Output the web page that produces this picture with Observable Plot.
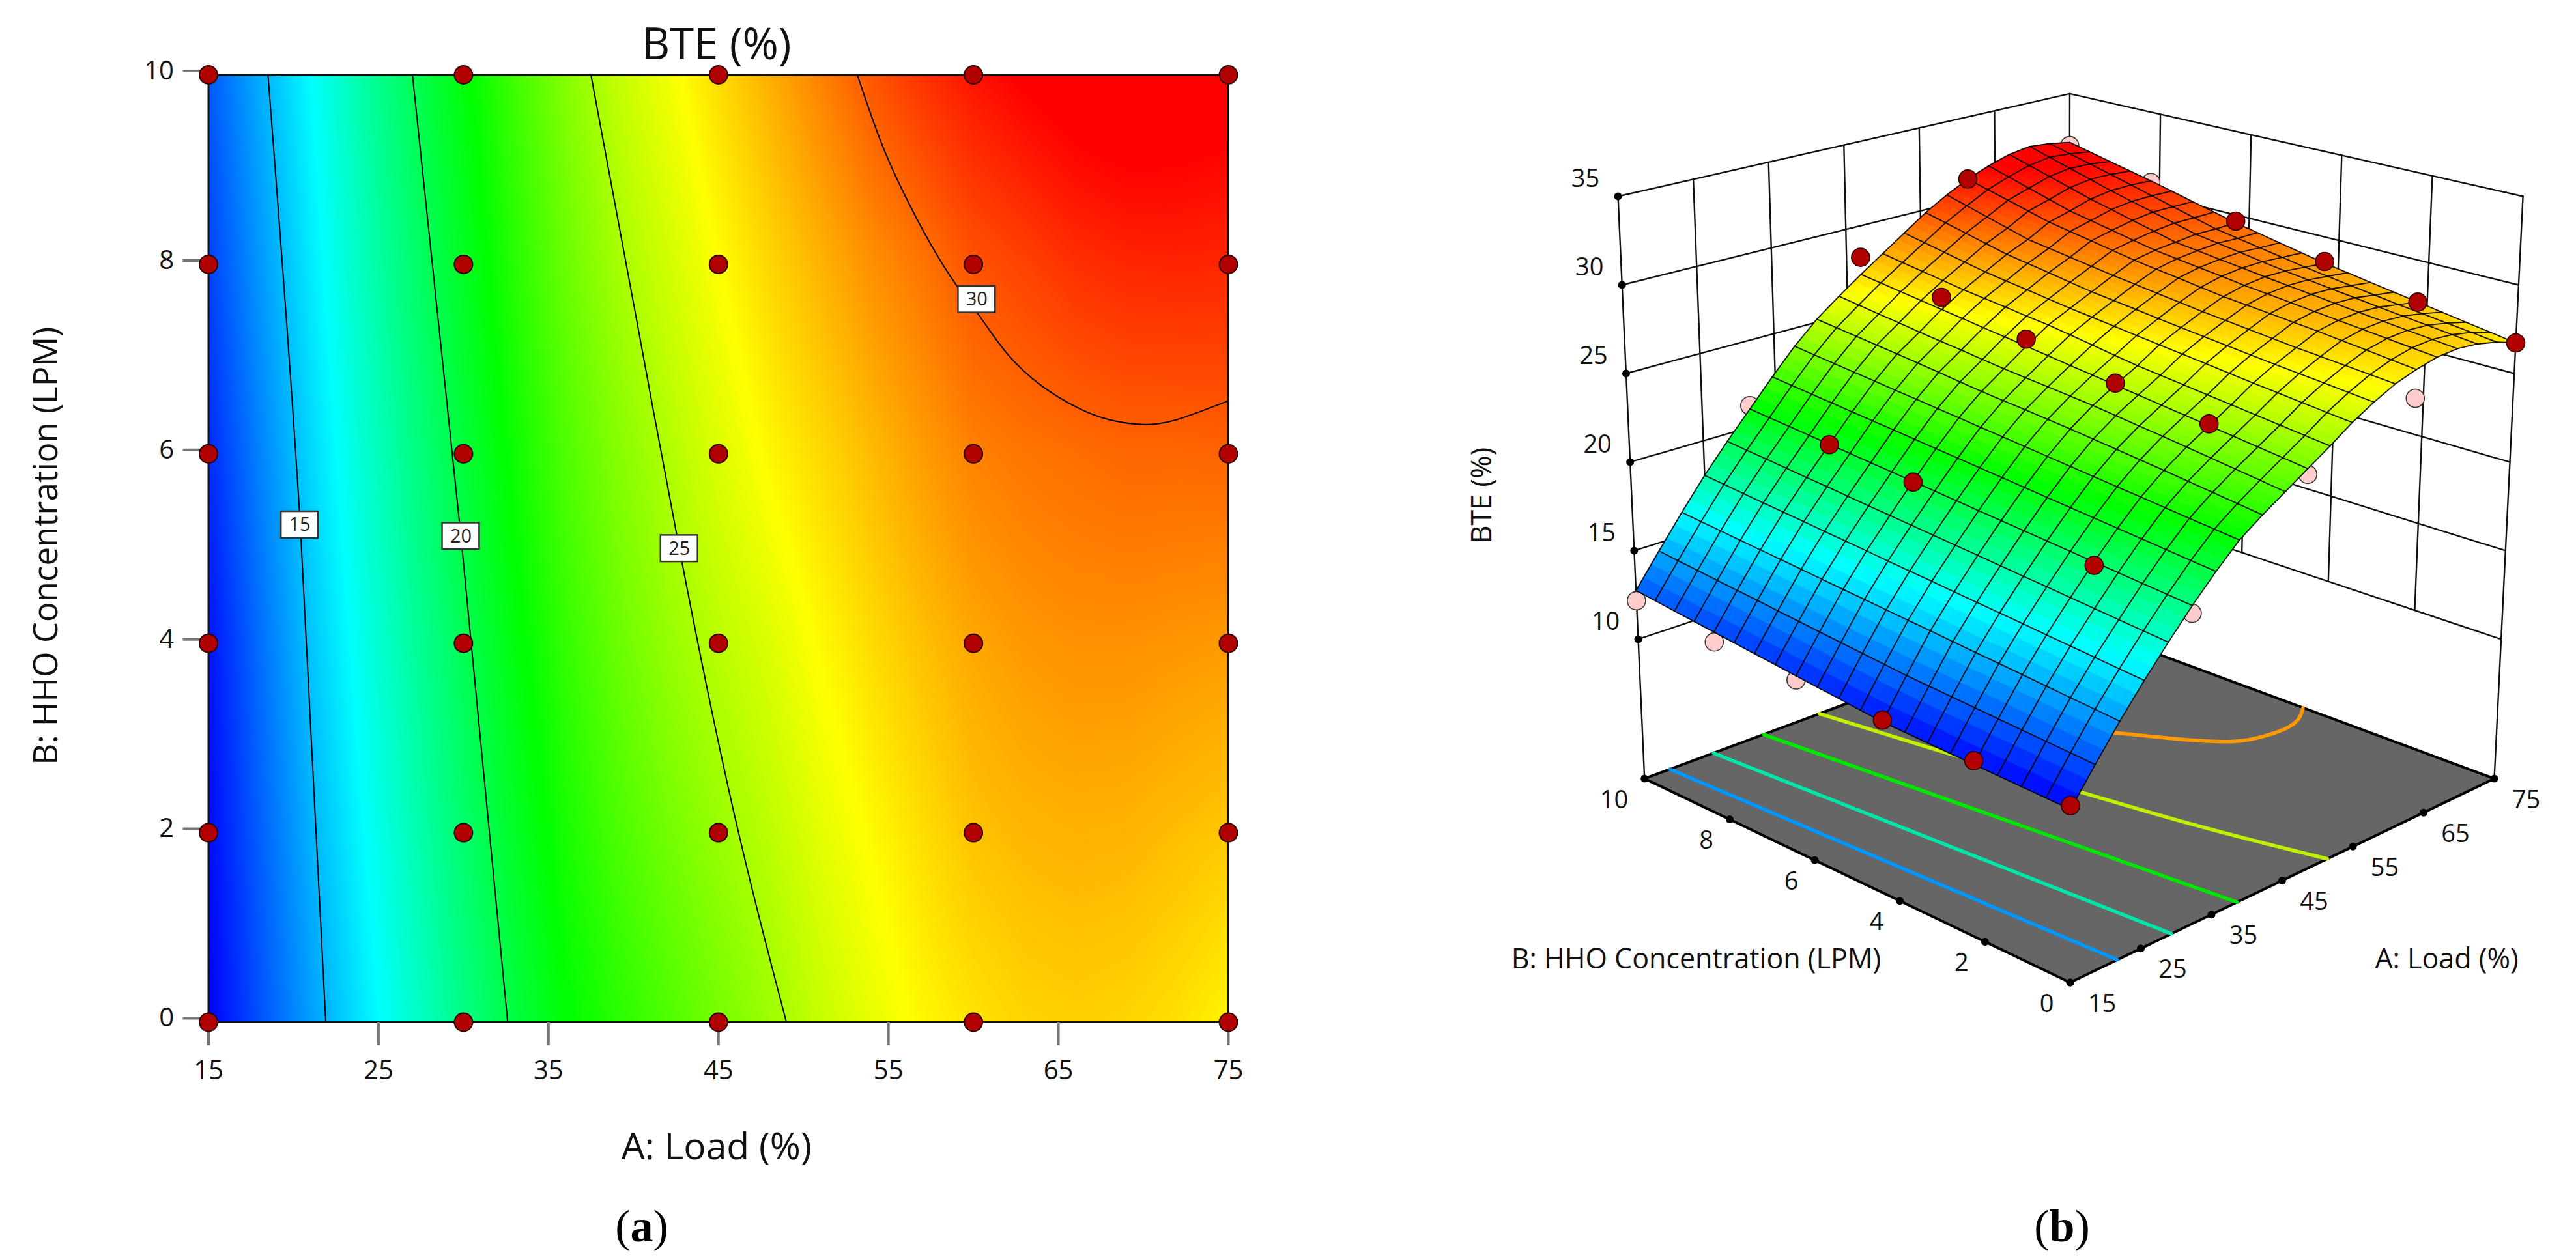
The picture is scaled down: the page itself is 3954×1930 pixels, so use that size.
<!DOCTYPE html>
<html><head><meta charset="utf-8">
<script src="https://cdn.jsdelivr.net/npm/d3@7"></script>
<script src="https://cdn.jsdelivr.net/npm/@observablehq/plot@0.6"></script>
<style>
html,body{margin:0;padding:0;background:#fff;}
#page{position:relative;width:3954px;height:1930px;overflow:hidden;font-family:"Open Sans",sans-serif;}
#page svg{position:absolute;top:0;}
.cap{position:absolute;font-family:"Liberation Serif",serif;font-size:70px;line-height:70px;color:#000;transform:translate(-50%,-50%);}
</style></head><body><div id="page"></div>
<script>
// ---- axis ticks and labels
const loadTicks=[15,25,35,45,55,65,75];
const hhoTicks=[0,2,4,6,8,10];
const bteTicks=[10,15,20,25,30,35];
const titleText="BTE (%)";
const loadLabel="A: Load (%)";
const hhoLabel="B: HHO Concentration (LPM)";

// ---- colour ramp of the response
const colorDomain=[10.9,16.6,21.6,26.8,30,32];
const colorRange=["#0000ff","#00ffff","#00ff00","#ffff00","#ff5f00","#ff0000"];

// ---- response surface: one list per load value, from HHO 0 to 10 in steps of 0.5
const gridLoad=[15,18,21,24,27,30,33,36,39,42,45,48,51,54,57,60,63,66,69,72,75];
const gridHHO=[0,0.5,1,1.5,2,2.5,3,3.5,4,4.5,5,5.5,6,6.5,7,7.5,8,8.5,9,9.5,10];
const bte15=[10.90,10.95,11.00,11.05,11.10,11.15,11.20,11.25,11.30,11.43,11.57,11.70,11.83,11.97,12.10,12.23,12.37,12.50,12.63,12.77,12.90];
const bte18=[12.70,12.78,12.86,12.94,13.02,13.10,13.18,13.26,13.34,13.46,13.58,13.69,13.81,13.93,14.05,14.17,14.29,14.40,14.52,14.64,14.76];
const bte21=[14.44,14.55,14.65,14.76,14.87,14.98,15.08,15.19,15.30,15.40,15.51,15.62,15.72,15.83,15.94,16.05,16.15,16.26,16.37,16.47,16.58];
const bte24=[16.06,16.17,16.29,16.40,16.51,16.63,16.74,16.85,16.96,17.08,17.19,17.30,17.42,17.53,17.64,17.76,17.87,17.98,18.09,18.21,18.32];
const bte27=[17.56,17.68,17.79,17.91,18.03,18.15,18.26,18.38,18.50,18.61,18.73,18.85,18.96,19.08,19.20,19.32,19.43,19.55,19.67,19.78,19.90];
const bte30=[19.00,19.12,19.24,19.36,19.48,19.60,19.72,19.84,19.96,20.08,20.20,20.32,20.44,20.56,20.68,20.80,20.92,21.04,21.16,21.28,21.40];
const bte33=[20.32,20.45,20.58,20.71,20.84,20.97,21.09,21.22,21.35,21.48,21.61,21.74,21.87,22.00,22.13,22.26,22.38,22.51,22.64,22.77,22.90];
const bte36=[21.52,21.66,21.80,21.94,22.08,22.22,22.36,22.50,22.64,22.78,22.92,23.06,23.20,23.34,23.48,23.62,23.76,23.90,24.04,24.18,24.32];
const bte39=[22.40,22.58,22.75,22.93,23.10,23.26,23.43,23.59,23.75,23.89,24.03,24.16,24.30,24.46,24.63,24.79,24.95,25.10,25.25,25.40,25.55];
const bte42=[23.20,23.39,23.58,23.76,23.95,24.13,24.30,24.48,24.65,24.79,24.93,25.06,25.20,25.36,25.53,25.69,25.85,26.03,26.20,26.38,26.55];
const bte45=[24.00,24.18,24.35,24.53,24.70,24.88,25.05,25.23,25.40,25.58,25.75,25.93,26.10,26.28,26.45,26.63,26.80,26.98,27.15,27.33,27.50];
const bte48=[24.80,24.96,25.13,25.29,25.45,25.61,25.78,25.94,26.10,26.31,26.53,26.74,26.95,27.11,27.28,27.44,27.60,27.80,28.00,28.20,28.40];
const bte51=[25.65,25.80,25.95,26.10,26.25,26.41,26.58,26.74,26.90,27.06,27.23,27.39,27.55,27.74,27.93,28.11,28.30,28.55,28.80,29.05,29.30];
const bte54=[26.35,26.49,26.63,26.76,26.90,27.05,27.20,27.35,27.50,27.66,27.83,27.99,28.15,28.36,28.58,28.79,29.00,29.30,29.60,29.90,30.20];
const bte57=[26.95,27.08,27.20,27.33,27.45,27.60,27.75,27.90,28.05,28.23,28.40,28.58,28.75,28.95,29.15,29.35,29.55,29.90,30.25,30.60,30.95];
const bte60=[27.35,27.51,27.68,27.84,28.00,28.14,28.28,28.41,28.55,28.74,28.93,29.11,29.30,29.54,29.78,30.01,30.25,30.59,30.93,31.26,31.60];
const bte63=[27.65,27.80,27.95,28.10,28.25,28.40,28.55,28.70,28.85,29.03,29.20,29.38,29.55,29.81,30.08,30.34,30.60,30.98,31.35,31.73,32.10];
const bte66=[27.75,27.90,28.05,28.20,28.35,28.51,28.68,28.84,29.00,29.18,29.35,29.53,29.70,30.03,30.35,30.68,31.00,31.38,31.75,32.13,32.50];
const bte69=[27.65,27.81,27.98,28.14,28.30,28.48,28.65,28.83,29.00,29.21,29.43,29.64,29.85,30.19,30.53,30.86,31.20,31.58,31.95,32.33,32.70];
const bte72=[27.40,27.58,27.75,27.93,28.10,28.30,28.50,28.70,28.90,29.14,29.38,29.61,29.85,30.20,30.55,30.90,31.25,31.59,31.93,32.26,32.60];
const bte75=[27.00,27.23,27.45,27.68,27.90,28.13,28.35,28.58,28.80,29.08,29.35,29.63,29.90,30.23,30.55,30.88,31.20,31.50,31.80,32.10,32.40];
const gridBTE=[bte15,bte18,bte21,bte24,bte27,bte30,bte33,bte36,bte39,bte42,bte45,bte48,bte51,bte54,bte57,bte60,bte63,bte66,bte69,bte72,bte75];

// ---- design points
const pointLoad=[15,15,15,15,15,15,30,30,30,30,30,30,45,45,45,45,45,45,60,60,60,60,60,60,75,75,75,75,75,75];
const pointHHO =[0,2,4,6,8,10,0,2,4,6,8,10,0,2,4,6,8,10,0,2,4,6,8,10,0,2,4,6,8,10];
const pointBTE =[11.1,11.3,11.4,11.6,11.8,12.3,18.6,19.3,19.4,20.4,20.9,21.6,23.7,24.8,25.5,26.5,27.5,28.5,25.8,26.8,27.8,29.0,30.2,31.6,27.0,27.9,28.9,30.0,31.1,32.2];
const pointAbove=[1,1,1,0,0,0,0,1,0,1,1,0,0,1,1,1,1,1,0,0,0,0,0,1,1,1,1,1,0,0];

// ---- contour lines of panel (a)
const contourLevels=[15,20,25,30];
const contourLoads=[[18.5,20.4,21.9],[27.0,29.85,32.6],[37.5,40.2,42.7,45.8,49.0],[53.17,54.5,55.8,57.4,59.0,60.3,61.97,64.0,66.1,68.0,70.0,71.95,75.0]];
const contourHHOs=[[10,5.25,0],[10,5.13,0],[10,7.4,5.0,2.3,0],[10,9.32,8.79,8.24,7.78,7.47,7.06,6.72,6.49,6.36,6.31,6.36,6.56]];
const labelLoad=[20.37,29.85,42.7,60.2];
const labelHHO=[5.25,5.13,5.0,7.63];

// ---- contour lines on the floor of panel (b)
const floorColors=["#0096ff","#00e6aa","#00e600","#c0f000","#ff9a00"];
const floorLoads=[[18.2,20.9],[23.8,27.9],[30.4,36.7],[38.0,40.4,43.0,46.0,49.4],[56.3,61.8,66.2,71.0,75.0]];
const floorHHOs=[[10,0],[10,0],[10,0],[10,7.4,5.0,2.3,0],[5.8,4.35,3.88,3.85,4.2]];

// ---- shared helpers
const font='"Open Sans",sans-serif';
const ramp={type:"linear",domain:colorDomain,range:colorRange,interpolate:"rgb",clamp:true};
const page=document.getElementById("page");

// ================= panel (a)
const cells=gridLoad.flatMap((A,i)=>gridHHO.map((B,j)=>({A,B,z:gridBTE[i][j]})));
const points=pointLoad.map((A,i)=>({A,B:pointHHO[i],z:pointBTE[i],above:pointAbove[i]}));
const contourRows=contourLevels.flatMap((lev,k)=>contourLoads[k].map((A,i)=>({lev,A,B:contourHHOs[k][i]})));
const labels=contourLevels.map((lev,k)=>({lev,A:labelLoad[k],B:labelHHO[k]}));
const halfLabelLoad=1.09, halfLabelHHO=0.14;

const left=Plot.plot({
  width:2000,height:1930,marginLeft:319.5,marginRight:115,marginTop:114.5,marginBottom:361,
  style:{background:"transparent",fontFamily:font,color:"#111",overflow:"visible"},
  x:{domain:[15,75],axis:null},y:{domain:[0,10],axis:null},color:ramp,
  marks:[
    Plot.raster(cells,{x:"A",y:"B",fill:"z",x1:15,x2:75,y1:0,y2:10,interpolate:"barycentric",pixelSize:2}),
    Plot.line(contourRows,{x:"A",y:"B",z:"lev",stroke:"#000",strokeWidth:2,curve:"natural"}),
    Plot.frame({stroke:"#111",strokeWidth:3}),
    Plot.axisX({ticks:loadTicks,tickSize:36,tickPadding:23,fontSize:40,label:null,stroke:"#777",strokeWidth:4,tickFormat:d=>d}),
    Plot.axisY({ticks:hhoTicks,tickSize:39,tickPadding:14,fontSize:40,label:null,stroke:"#777",strokeWidth:4,dy:-6,tickFormat:d=>d}),
    Plot.rect(labels,{x1:d=>d.A-halfLabelLoad,x2:d=>d.A+halfLabelLoad,y1:d=>d.B-halfLabelHHO,y2:d=>d.B+halfLabelHHO,fill:"#fff",stroke:"#333",strokeWidth:2.5}),
    Plot.text(labels,{x:"A",y:"B",text:"lev",fontSize:29,fill:"#222"}),
    Plot.dot(points,{x:"A",y:"B",r:14,fill:"#b00000",stroke:"#2a0000",strokeWidth:2}),
    Plot.text([titleText],{frameAnchor:"top",dx:-3,dy:-72,fontSize:67,fill:"#111"}),
    Plot.text([loadLabel],{frameAnchor:"bottom",dx:-3,dy:210,fontSize:57,fill:"#111"}),
    Plot.text([hhoLabel],{frameAnchor:"left",textAnchor:"middle",dx:-248,dy:-4,rotate:-90,fontSize:51,fill:"#111"})
  ]
});
left.style.left="0px";
page.appendChild(left);

// ================= panel (b): a fixed camera turns (load, HHO, BTE) into picture positions
const panelOffset=2000;
const floorLevel=1.667;
function project(A,B,z){
  const u=(A-15)/60,v=B/10,w=0.25+0.03*(z-10);
  const d=1+0.1467*(u+v)-0.07*w;
  return [(3177+1212.6*u-283*v-220.5*w)/d-panelOffset,(1508-137.7*(u+v)-1046.2*w)/d];
}
const px=d=>project(d.A,d.B,d.z)[0], py=d=>project(d.A,d.B,d.z)[1];

// the box (walls, axis ticks) runs evenly between its corners
const boxFloor=2.13, backTopLift=9;
const lerp=(p,q,t)=>[p[0]+(q[0]-p[0])*t,p[1]+(q[1]-p[1])*t];
function boxProject(A,B,z){
  const u=(A-15)/60,v=B/10,h=(z-boxFloor)/(35-boxFloor);
  const corner=(a,b,c)=>project(a,b,c);
  const low=lerp(lerp(corner(15,0,floorLevel),corner(75,0,floorLevel),u),lerp(corner(15,10,floorLevel),corner(75,10,floorLevel),u),v);
  const back=corner(75,10,35);
  const high=lerp(lerp(corner(15,0,35),corner(75,0,35),u),lerp(corner(15,10,35),[back[0],back[1]-backTopLift],u),v);
  return lerp(low,high,h);
}
const bx=d=>boxProject(d.A,d.B,d.z)[0], by=d=>boxProject(d.A,d.B,d.z)[1];

// walls
const wallRows=[];let wid=0;
const seg=(a,b)=>{wid++;wallRows.push({id:wid,...a},{id:wid,...b});};
for(const z of bteTicks){seg({A:15,B:10,z},{A:75,B:10,z});seg({A:75,B:10,z},{A:75,B:0,z});}
for(const A of loadTicks){const low=(A===15||A===75)?boxFloor:10;seg({A,B:10,z:low},{A,B:10,z:35});}
for(const B of hhoTicks){if(B===10)continue;const low=B===0?boxFloor:10;seg({A:75,B,z:low},{A:75,B,z:35});}

// floor
const floorRing=[{A:15,B:0},{A:75,B:0},{A:75,B:10},{A:15,B:10},{A:15,B:0}].map(d=>({...d,z:floorLevel}));
const floorLines=floorColors.flatMap((color,k)=>floorLoads[k].map((A,i)=>({k,color,A,B:floorHHOs[k][i],z:floorLevel})));
const loadTickRows=loadTicks.map(A=>({A,B:0,z:boxFloor}));
const hhoTickRows=hhoTicks.map(B=>({A:15,B,z:boxFloor}));
const bteTickRows=bteTicks.map(z=>({A:15,B:10,z}));

// surface: each mesh cell is shaded in a few small flat pieces so the colour runs smoothly
const shade=3;
const patches=[];let pid=0;
for(let i=gridLoad.length-2;i>=0;i--)for(let j=gridHHO.length-2;j>=0;j--){
  const corner=(a,b)=>{
    const A=gridLoad[i]+(gridLoad[i+1]-gridLoad[i])*a, B=gridHHO[j]+(gridHHO[j+1]-gridHHO[j])*b;
    const z=(1-a)*(1-b)*gridBTE[i][j]+a*(1-b)*gridBTE[i+1][j]+(1-a)*b*gridBTE[i][j+1]+a*b*gridBTE[i+1][j+1];
    return {A,B,z};
  };
  for(let s=shade-1;s>=0;s--)for(let t=shade-1;t>=0;t--){
    pid++;
    const c=[corner(s/shade,t/shade),corner((s+1)/shade,t/shade),corner((s+1)/shade,(t+1)/shade),corner(s/shade,(t+1)/shade)];
    const v=corner((s+.5)/shade,(t+.5)/shade).z;
    for(const q of [...c,c[0]])patches.push({id:pid,v,...q});
  }
}
const meshRows=[];
gridLoad.forEach((A,i)=>gridHHO.forEach((B,j)=>meshRows.push({id:"a"+i,A,B,z:gridBTE[i][j]})));
gridHHO.forEach((B,j)=>gridLoad.forEach((A,i)=>meshRows.push({id:"b"+j,A,B,z:gridBTE[i][j]})));

const labelAt=(text,x,y,opts)=>Plot.text([{text,x:x-panelOffset,y}],{x:"x",y:"y",text:"text",fontSize:43,fill:"#111",...opts});

const right=Plot.plot({
  width:1954,height:1930,margin:0,
  style:{background:"transparent",fontFamily:font,overflow:"visible"},
  x:{type:"identity",axis:null},y:{type:"identity",axis:null},color:ramp,
  marks:[
    Plot.line(wallRows,{x:bx,y:by,z:"id",stroke:"#111",strokeWidth:2.4}),
    Plot.line(floorRing,{x:px,y:py,fill:"#666",stroke:"#000",strokeWidth:4}),
    Plot.line(floorLines,{x:px,y:py,z:"k",stroke:"color",strokeWidth:5.5,curve:"natural"}),
    Plot.dot(loadTickRows,{x:bx,y:by,r:6,fill:"#000"}),
    Plot.dot(hhoTickRows,{x:bx,y:by,r:6,fill:"#000"}),
    Plot.dot(bteTickRows,{x:bx,y:by,r:6,fill:"#000"}),
    Plot.dot(points.filter(d=>!d.above),{x:px,y:py,r:14,fill:"#ffcccc",stroke:"#333",strokeWidth:1.6}),
    Plot.line(patches,{x:px,y:py,z:"id",fill:"v",stroke:"v",strokeWidth:0.8}),
    Plot.line(meshRows,{x:px,y:py,z:"id",stroke:"#000",strokeWidth:1.9,strokeOpacity:0.9}),
    Plot.dot(points.filter(d=>d.above),{x:px,y:py,r:14,fill:"#b00000",stroke:"#2a0000",strokeWidth:1.6}),
    Plot.text(bteTickRows,{x:bx,y:by,text:"z",dx:-50,dy:-27,fontSize:38,fill:"#111"}),
    Plot.text(hhoTickRows,{x:bx,y:by,text:"B",textAnchor:"end",dx:-25,dy:33,fontSize:38,fill:"#111"}),
    Plot.text(loadTickRows,{x:bx,y:by,text:"A",dx:49,dy:33,fontSize:38,fill:"#111"}),
    labelAt(hhoLabel,2603,1473,{}),
    labelAt(loadLabel,3755,1473,{}),
    labelAt(titleText,2275,760,{rotate:-90})
  ]
});
right.style.left=panelOffset+"px";
page.appendChild(right);

// captions
for(const [t,x] of [["a",985],["b",3165]]){
  const c=document.createElement("div");c.className="cap";c.style.left=x+"px";c.style.top="1883px";
  c.append("(");const b=document.createElement("b");b.textContent=t;c.append(b,")");page.appendChild(c);
}
</script></body></html>
